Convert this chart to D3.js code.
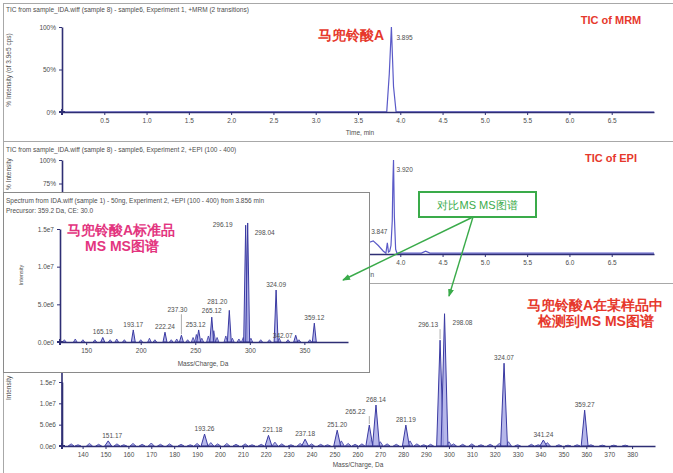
<!DOCTYPE html>
<html><head><meta charset="utf-8">
<script src="https://cdn.jsdelivr.net/npm/d3@7"></script>
<style>
body{margin:0;background:#fff}
svg{display:block}
text{font-family:"Liberation Sans",Arial,sans-serif}
</style></head><body>
<svg id="c" width="673" height="473"></svg>
<script>
// ---- chromatogram traces (time in min, % intensity) ----
const mrmTime = [0, 1.0, 2.0, 3.0, 3.84, 3.87, 3.895, 3.92, 3.95, 4.5, 5.5, 7.0];
const mrmPct  = [0, 0.3, 0.2, 0.3, 0.5, 45, 100, 30, 0.5, 0.3, 0.2, 0];
const mrmPeakTime = [3.895];
const mrmPeakPct  = [100];

const epiTime = [3.55, 3.62, 3.68, 3.74, 3.80, 3.83, 3.847, 3.86, 3.875, 3.89, 3.905, 3.912, 3.920, 3.93, 3.945, 3.96, 4.1, 4.25, 4.30, 4.35, 4.6, 5.2, 6.0, 7.0];
const epiPct  = [2, 12, 14, 9, 3, 1, 12, 2, 3, 9, 35, 75, 100, 40, 5, 1, 1, 1, 3, 1, 1, 1, 1, 1];
const epiPeakTime = [3.847, 3.920];
const epiPeakPct  = [12, 100];

const timeTicks = [0.5, 1.0, 1.5, 2.0, 2.5, 3.0, 3.5, 4.0, 4.5, 5.0, 5.5, 6.0, 6.5];
const mrmPctTicks = [0, 50, 100];
const epiPctTicks = [75, 100];

// ---- MS/MS spectrum of the reference standard ----
const stdMz  = [165.19, 193.17, 222.24, 237.30, 253.12, 265.12, 281.20, 296.19, 298.04, 324.09, 342.07, 359.12];
const stdInt = [0.6e6, 1.6e6, 1.3e6, 0.9e6, 1.6e6, 3.3e6, 4.2e6, 1.55e7, 1.58e7, 6.9e6, 0.9e6, 2.5e6];
const stdMinorMz  = [130, 140, 147, 158, 172, 178, 185, 200, 208, 213, 228, 233, 243, 248, 251, 256, 262, 267, 270, 278, 284, 290, 294, 301, 310, 318, 327, 335, 345, 355];
const stdMinorInt = [0.3e6, 0.4e6, 0.3e6, 0.3e6, 0.3e6, 0.4e6, 0.3e6, 0.3e6, 0.5e6, 0.3e6, 0.3e6, 0.4e6, 0.3e6, 0.6e6, 1.0e6, 0.5e6, 0.8e6, 1.5e6, 0.6e6, 0.8e6, 0.5e6, 0.4e6, 0.6e6, 0.5e6, 0.3e6, 0.3e6, 0.5e6, 0.3e6, 0.3e6, 0.3e6];
const stdMzTicks  = [150, 200, 250, 300, 350];
const stdIntTicks = [0, 5e6, 1e7, 1.5e7];

// ---- MS/MS spectrum detected in the sample ----
const smpMz  = [151.17, 193.26, 221.18, 237.18, 251.20, 265.22, 268.14, 281.19, 296.13, 298.08, 324.07, 341.24, 359.27];
const smpInt = [1.2e6, 2.8e6, 2.5e6, 1.6e6, 3.7e6, 4.9e6, 9.6e6, 4.9e6, 2.48e7, 3.1e7, 1.94e7, 1.4e6, 8.4e6];
const smpMinorMz  = [135, 138, 143, 147, 155, 158, 162, 166, 170, 174, 178, 183, 187, 190, 196, 199, 203, 207, 211, 214, 218, 224, 227, 231, 235, 240, 244, 247, 253, 256, 259, 262, 266, 270, 273, 277, 283, 286, 289, 292, 300, 302, 306, 310, 314, 318, 322, 326, 330, 336, 339, 343, 348, 352, 356, 362, 367, 372, 377];
const smpMinorInt = [0.5e6, 0.3e6, 0.6e6, 0.4e6, 0.5e6, 0.3e6, 0.6e6, 0.4e6, 0.7e6, 0.4e6, 0.5e6, 0.4e6, 0.3e6, 0.6e6, 0.8e6, 0.5e6, 0.6e6, 0.4e6, 0.5e6, 0.3e6, 0.4e6, 0.9e6, 0.5e6, 0.3e6, 0.6e6, 0.5e6, 0.4e6, 0.3e6, 1.2e6, 0.6e6, 0.4e6, 0.5e6, 1.5e6, 1.0e6, 0.5e6, 0.4e6, 1.2e6, 0.5e6, 0.3e6, 0.4e6, 1.0e6, 0.5e6, 0.4e6, 0.5e6, 0.3e6, 0.4e6, 0.6e6, 1.0e6, 0.3e6, 0.4e6, 0.3e6, 0.8e6, 0.3e6, 0.2e6, 0.3e6, 0.3e6, 0.2e6, 0.2e6, 0.2e6];
const smpMzTicks  = [140, 150, 160, 170, 180, 190, 200, 210, 220, 230, 240, 250, 260, 270, 280, 290, 300, 310, 320, 330, 340, 350, 360, 370, 380];
const smpIntTicks = [0, 5e6, 1e7, 1.5e7];

// label placement tweaks for crowded peaks [dx, dy]
const stdLabelShift = {"296.19": [-23, 5], "298.04": [17, 15], "281.20": [-12, -3], "265.12": [0, -1], "237.30": [-4, -20], "253.12": [-3, 0], "342.07": [-13, 6]};
const smpLabelShift = {"296.13": [-12, -10], "298.08": [18, 14], "265.22": [-14, -8], "151.17": [4, 0], "221.18": [4, 0]};

const NAVY = "#2e2e74", TRACE = "#5a5ac8", PEAK = "#3a3aa2", PFILL = "#a9aae6",
      TXT = "#4d4d4d", FRAME = "#a8a8a8", RED = "#e6382c", PINK = "#e3357f", GREEN = "#3aab4a";
const CJK = "'Noto Sans CJK SC', sans-serif";

const svg = d3.select("#c");
const sciFmt = d => d3.format(".1e")(d).replace("e+", "e");

function styleAxis(g, fs) {
  g.attr("font-size", fs || 6.5).attr("font-family", "'Liberation Sans', Arial, sans-serif");
  g.select(".domain").attr("stroke", NAVY).attr("stroke-width", 1.6);
  g.selectAll(".tick line").attr("stroke", NAVY).attr("stroke-width", 1);
  g.selectAll(".tick text").attr("fill", TXT);
}
function originMark(x, y) {
  svg.append("path").attr("d", d3.symbol(d3.symbolCross, 20)()).attr("transform", `translate(${x},${y})`).attr("fill", NAVY);
}
function smallText(x, y, s, anchor, size) {
  return svg.append("text").attr("x", x).attr("y", y).attr("font-size", size || 6.5)
    .attr("fill", TXT).attr("text-anchor", anchor || "start").text(s);
}
function yLabel(x, y, s, anchor) {
  return svg.append("text").attr("transform", `translate(${x},${y}) rotate(-90)`)
    .attr("font-size", 6.5).attr("fill", TXT).attr("text-anchor", anchor || "middle").text(s);
}

// ---- panel frames ----
const frame = svg.append("g").attr("stroke", FRAME).attr("stroke-width", 1).attr("fill", "none");
frame.append("line").attr("x1", 3).attr("x2", 673).attr("y1", 3.5).attr("y2", 3.5);
frame.append("line").attr("x1", 3.5).attr("x2", 3.5).attr("y1", 3).attr("y2", 473);
frame.append("line").attr("x1", 3).attr("x2", 673).attr("y1", 141.5).attr("y2", 141.5);
frame.append("line").attr("x1", 370).attr("x2", 673).attr("y1", 283.5).attr("y2", 283.5);

// ---- time axis shared by both chromatograms ----
const tX = d3.scaleLinear().domain([0, 7]).range([62, 654]);

// ===== TIC of MRM =====
const yMrm = d3.scaleLinear().domain([0, 100]).range([112, 27]);
smallText(6, 12, "TIC from sample_IDA.wiff (sample 8) - sample6, Experiment 1, +MRM (2 transitions)");
yLabel(11, 70, "% Intensity (of 3.9e5 cps)");
svg.append("path").datum(d3.zip(mrmTime, mrmPct))
  .attr("d", d3.line().x(d => tX(d[0])).y(d => yMrm(d[1])))
  .attr("fill", "none").attr("stroke", TRACE).attr("stroke-width", 1.2);
svg.append("g").attr("transform", "translate(0,112)")
  .call(d3.axisBottom(tX).tickValues(timeTicks).tickFormat(d3.format(".1f")).tickSize(3).tickSizeOuter(0)).call(styleAxis);
svg.append("g").attr("transform", "translate(62,0)")
  .call(d3.axisLeft(yMrm).tickValues(mrmPctTicks).tickFormat(d => d + "%").tickSize(3).tickSizeOuter(0)).call(styleAxis);
originMark(62, 112);
mrmPeakTime.forEach((t, i) => smallText(tX(t) + 5, yMrm(mrmPeakPct[i]) + 13, t.toFixed(3)));
smallText(360, 135, "Time, min", "middle");
svg.append("text").attr("x", 611).attr("y", 24).attr("text-anchor", "middle").attr("font-size", 11)
  .attr("font-weight", 700).attr("fill", RED).text("TIC of MRM");
svg.append("text").attr("x", 351).attr("y", 40).attr("text-anchor", "middle").attr("font-size", 14)
  .attr("font-weight", 700).attr("font-family", CJK).attr("fill", RED).text("马兜铃酸A");

// ===== TIC of EPI =====
const yEpi = d3.scaleLinear().domain([0, 100]).range([254, 160]);
smallText(6, 152, "TIC from sample_IDA.wiff (sample 8) - sample6, Experiment 2, +EPI (100 - 400)");
yLabel(11, 190, "% Intensity", "start");
svg.append("path").datum(d3.zip(epiTime, epiPct))
  .attr("d", d3.line().x(d => tX(d[0])).y(d => yEpi(d[1])))
  .attr("fill", "none").attr("stroke", TRACE).attr("stroke-width", 1.2);
svg.append("g").attr("transform", "translate(0,254)")
  .call(d3.axisBottom(tX).tickValues(timeTicks).tickFormat(d3.format(".1f")).tickSize(3).tickSizeOuter(0)).call(styleAxis);
svg.append("g").attr("transform", "translate(62,0)")
  .call(d3.axisLeft(yEpi).tickValues(epiPctTicks).tickFormat(d => d + "%").tickSize(3).tickSizeOuter(0)).call(styleAxis);
smallText(tX(epiPeakTime[0]) - 8, yEpi(epiPeakPct[0]) - 9, epiPeakTime[0].toFixed(3), "middle");
smallText(tX(epiPeakTime[1]) + 3, yEpi(epiPeakPct[1]) + 12, epiPeakTime[1].toFixed(3));
smallText(360, 277, "Time, min", "middle");
svg.append("text").attr("x", 611).attr("y", 162).attr("text-anchor", "middle").attr("font-size", 11)
  .attr("font-weight", 700).attr("fill", RED).text("TIC of EPI");

// ---- spectrum drawing helper ----
function drawSpectrum(g, mz, inten, x, y, hw, opts) {
  const area = d3.area().x(d => x(d[0])).y0(y(0)).y1(d => y(d[1]));
  g.append("g").selectAll("path").data(d3.zip(mz, inten)).join("path")
    .attr("d", p => area([[p[0] - hw, 0], [p[0], p[1]], [p[0] + hw, 0]]))
    .attr("fill", PFILL).attr("fill-opacity", 0.85)
    .attr("stroke", PEAK).attr("stroke-width", opts && opts.sw || 0.8).attr("stroke-linejoin", "round");
}
function peakLabels(g, mz, inten, x, y, shift) {
  mz.forEach((m, i) => {
    const key = m.toFixed(2), s = shift[key] || [0, 0];
    const px = x(m), py = y(inten[i]);
    if (s[1] < -6) {
      g.append("line").attr("x1", px).attr("x2", px).attr("y1", py - 1).attr("y2", py + s[1] - 1)
        .attr("stroke", "#777").attr("stroke-width", 0.6);
    }
    g.append("text").attr("x", px + s[0]).attr("y", py - 3 + s[1]).attr("text-anchor", "middle")
      .attr("font-size", 6.5).attr("fill", TXT).text(key);
  });
}

// ===== MS/MS spectrum found in the sample =====
const sX = d3.scaleLinear().domain([131, 390]).range([62, 655]);
const sY = d3.scaleLinear().domain([0, 1.5e7]).range([446, 382]);
const gS = svg.append("g");
drawSpectrum(gS, smpMinorMz, smpMinorInt, sX, sY, 1.3);
drawSpectrum(gS, smpMz, smpInt, sX, sY, 1.5, {sw: 1});
gS.append("line").attr("x1", 62).attr("x2", 62).attr("y1", 446).attr("y2", 290)
  .attr("stroke", NAVY).attr("stroke-width", 1.6);
gS.append("g").attr("transform", "translate(0,446)")
  .call(d3.axisBottom(sX).tickValues(smpMzTicks).tickFormat(d3.format("d")).tickSize(3).tickSizeOuter(0)).call(styleAxis);
gS.append("g").attr("transform", "translate(62,0)")
  .call(d3.axisLeft(sY).tickValues(smpIntTicks).tickFormat(sciFmt).tickSize(3).tickSizeOuter(0)).call(styleAxis);
originMark(62, 446);
peakLabels(gS, smpMz, smpInt, sX, sY, smpLabelShift);
smallText(358, 467, "Mass/Charge, Da", "middle");
yLabel(11, 400, "Intensity", "start");

// ===== inset: MS/MS spectrum of the standard =====
svg.append("rect").attr("x", 3.5).attr("y", 192.5).attr("width", 366).attr("height", 180)
  .attr("fill", "#fff").attr("stroke", "#8a8a8a").attr("stroke-width", 1);
const iX = d3.scaleLinear().domain([126, 390]).range([60, 348]);
const iY = d3.scaleLinear().domain([0, 1.5e7]).range([342, 229]);
const gI = svg.append("g");
smallText(6, 203, "Spectrum from IDA.wiff (sample 1) - 50ng, Experiment 2, +EPI (100 - 400) from 3.856 min");
smallText(6, 213, "Precursor: 359.2 Da, CE: 30.0");
drawSpectrum(gI, stdMinorMz, stdMinorInt, iX, iY, 1.6);
drawSpectrum(gI, stdMz, stdInt, iX, iY, 1.8, {sw: 1});
gI.append("g").attr("transform", "translate(0,342)")
  .call(d3.axisBottom(iX).tickValues(stdMzTicks).tickFormat(d3.format("d")).tickSize(3).tickSizeOuter(0)).call(styleAxis);
gI.append("g").attr("transform", "translate(60,0)")
  .call(d3.axisLeft(iY).tickValues(stdIntTicks).tickFormat(sciFmt).tickSize(3).tickSizeOuter(0)).call(styleAxis);
originMark(60, 342);
peakLabels(gI, stdMz, stdInt, iX, iY, stdLabelShift);
smallText(203, 366, "Mass/Charge, Da", "middle");
yLabel(23, 275, "Intensity", "middle").attr("font-size", 5.5);
svg.append("text").attr("x", 121).attr("y", 235).attr("text-anchor", "middle").attr("font-size", 14)
  .attr("font-weight", 700).attr("font-family", CJK).attr("fill", PINK).text("马兜铃酸A标准品");
svg.append("text").attr("x", 122).attr("y", 251).attr("text-anchor", "middle").attr("font-size", 14)
  .attr("font-weight", 700).attr("font-family", CJK).attr("fill", PINK).text("MS MS图谱");

// ---- annotations ----
svg.append("text").attr("x", 595).attr("y", 310).attr("text-anchor", "middle").attr("font-size", 14)
  .attr("font-weight", 700).attr("font-family", CJK).attr("fill", RED).text("马兜铃酸A在某样品中");
svg.append("text").attr("x", 596).attr("y", 326).attr("text-anchor", "middle").attr("font-size", 14)
  .attr("font-weight", 700).attr("font-family", CJK).attr("fill", RED).text("检测到MS MS图谱");

svg.append("defs").append("marker").attr("id", "ah").attr("viewBox", "0 0 8 6")
  .attr("refX", 7).attr("refY", 3).attr("markerWidth", 8).attr("markerHeight", 6)
  .attr("markerUnits", "userSpaceOnUse").attr("orient", "auto")
  .append("path").attr("d", "M0,0 L8,3 L0,6 Z").attr("fill", GREEN);
const arrows = [[[473, 217], [343, 280]], [[473, 217], [449, 296]]];
svg.append("g").selectAll("line").data(arrows).join("line")
  .attr("x1", d => d[0][0]).attr("y1", d => d[0][1]).attr("x2", d => d[1][0]).attr("y2", d => d[1][1])
  .attr("stroke", GREEN).attr("stroke-width", 1.4).attr("marker-end", "url(#ah)");
svg.append("rect").attr("x", 419).attr("y", 192).attr("width", 117).attr("height", 25)
  .attr("fill", "#fff").attr("stroke", GREEN).attr("stroke-width", 2);
svg.append("text").attr("x", 477.5).attr("y", 209).attr("text-anchor", "middle").attr("font-size", 11)
  .attr("font-family", CJK).attr("font-weight", 500).attr("fill", GREEN).text("对比MS MS图谱");
</script>
</body></html>
